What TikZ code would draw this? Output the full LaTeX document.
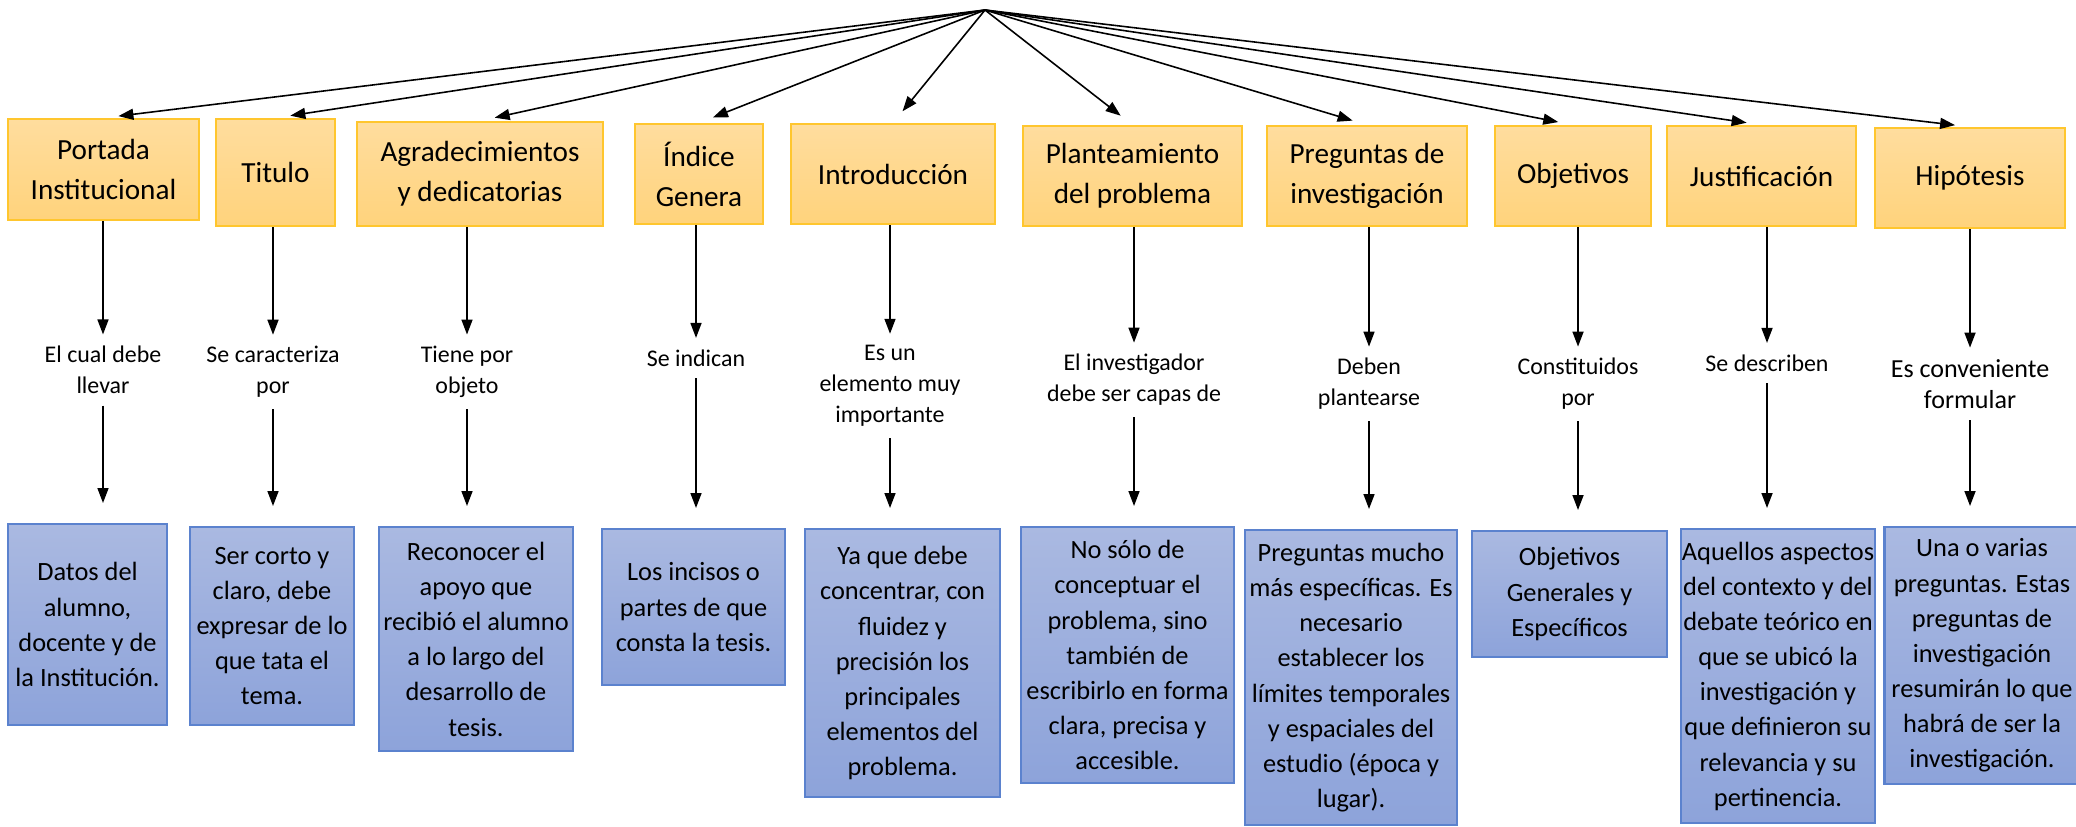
\documentclass[tikz,border=0pt]{standalone}
\usepackage{fontspec}
\setmainfont{Carlito}
\usetikzlibrary{arrows.meta}
\definecolor{goldedge}{HTML}{FFC62E}
\definecolor{goldtop}{HTML}{FFDD9E}
\definecolor{goldbot}{HTML}{FFD37C}
\definecolor{bluedge}{HTML}{5B82CE}
\definecolor{bluetop}{HTML}{AAB9E1}
\definecolor{bluebot}{HTML}{8DA3DA}

\begin{document}
\begin{tikzpicture}[x=0.01cm, y=-0.01cm,
    >={Triangle[length=0.15cm, width=0.11cm]},
    topbox/.style={draw=goldedge, line width=0.6pt, top color=goldtop, bottom color=goldbot,
                   align=center, inner xsep=0pt, font=\fontsize{8.3}{11.4}\selectfont},
    midtext/.style={align=center, inner sep=0.11cm, font=\fontsize{6.8}{8.8}\selectfont},
    botbox/.style={draw=bluedge, line width=0.6pt, top color=bluetop, bottom color=bluebot,
                   align=center, inner xsep=0pt, anchor=north, font=\fontsize{7.5}{10}\selectfont},
    flow/.style={->, line width=0.45pt}
    ]
    \useasboundingbox (0,0) rectangle (2076,826);
    \coordinate (tema) at (985,10);

    \node[topbox, minimum width=1.91cm, minimum height=1.01cm] (portada) at (103.5,169.5) {Portada\\Institucional};
    \node[topbox, minimum width=1.19cm, minimum height=1.07cm] (titulo) at (275.5,172.5) {Titulo};
    \node[topbox, minimum width=2.46cm, minimum height=1.04cm] (agrad) at (480,174) {Agradecimientos\\y dedicatorias};
    \node[topbox, minimum width=1.28cm, minimum height=1.00cm] (indice) at (699,174) {Índice\\Genera};
    \node[topbox, minimum width=2.04cm, minimum height=1.00cm] (intro) at (893,174) {Introducción};
    \node[topbox, minimum width=2.19cm, minimum height=1.00cm] (plant) at (1132.5,176) {Planteamiento\\del problema};
    \node[topbox, minimum width=2.00cm, minimum height=1.00cm] (pregun) at (1367,176) {Preguntas de\\investigación};
    \node[topbox, minimum width=1.56cm, minimum height=1.00cm] (objet) at (1573,176) {Objetivos};
    \node[topbox, minimum width=1.89cm, minimum height=1.00cm] (justif) at (1761.5,176) {Justificación};
    \node[topbox, minimum width=1.90cm, minimum height=1.00cm] (hipot) at (1970,178) {Hipótesis};

    \node[midtext] (portadal) at (103,370) {El cual debe\\llevar};
    \node[midtext] (titulol) at (273,372) {Se caracteriza\\por};
    \node[midtext] (agradl) at (467,372) {Tiene por\\objeto};
    \node[midtext] (indicel) at (696,358) {Se indican};
    \node[midtext] (introl) at (890,386) {Es un\\elemento muy\\importante};
    \node[midtext] (plantl) at (1134,380) {El investigador\\debe ser capas de};
    \node[midtext] (pregunl) at (1369,384) {Deben\\plantearse};
    \node[midtext] (objetl) at (1578,384) {Constituidos\\por};
    \node[midtext] (justifl) at (1767,363) {Se describen};
    \node[midtext, font=\fontsize{7.4}{8.9}\selectfont] (hipotl) at (1970,384) {Es conveniente\\formular};

    \node[botbox, minimum width=1.59cm, minimum height=2.01cm] (datos) at (87.5,523) {Datos del\\alumno,\\docente y de\\la Institución.};
    \node[botbox, minimum width=1.64cm, minimum height=1.98cm] (corto) at (272,526) {Ser corto y\\claro, debe\\expresar de lo\\que tata el\\tema.};
    \node[botbox, minimum width=1.94cm, minimum height=2.24cm] (apoyo) at (476,526) {Reconocer el\\apoyo que\\recibió el alumno\\a lo largo del\\desarrollo de\\tesis.};
    \node[botbox, minimum width=1.83cm, minimum height=1.56cm] (incisos) at (693.5,528) {Los incisos o\\partes de que\\consta la tesis.};
    \node[botbox, minimum width=1.95cm, minimum height=2.68cm] (concen) at (902.5,528) {Ya que debe\\concentrar, con\\fluidez y\\precisión los\\principales\\elementos del\\problema.};
    \node[botbox, minimum width=2.13cm, minimum height=2.56cm] (concep) at (1127.5,526) {No sólo de\\conceptuar el\\problema, sino\\también de\\escribirlo en forma\\clara, precisa y\\accesible.};
    \node[botbox, minimum width=2.12cm, minimum height=2.95cm] (limites) at (1351,529) {Preguntas mucho\\más específicas. Es\\necesario\\establecer los\\límites temporales\\y espaciales del\\estudio (época y\\lugar).};
    \node[botbox, minimum width=1.95cm, minimum height=1.26cm] (generales) at (1569.5,530) {Objetivos\\Generales y\\Específicos};
    \node[botbox, minimum width=1.94cm, minimum height=2.94cm] (aspectos) at (1778,528) {Aquellos aspectos\\del contexto y del\\debate teórico en\\que se ubicó la\\investigación y\\que definieron su\\relevancia y su\\pertinencia.};
    \node[botbox, minimum width=1.95cm, minimum height=2.56cm] (varias) at (1982,526) {Una o varias\\preguntas. Estas\\preguntas de\\investigación\\resumirán lo que\\habrá de ser la\\investigación.};

    \foreach \n in {portada,titulo,agrad,indice,intro,plant,pregun,objet,justif,hipot}
        \draw[flow, shorten >=0.15cm] (tema) -- (\n.north);

    \foreach \a/\b/\c in {portada/portadal/datos, titulo/titulol/corto, agrad/agradl/apoyo,
                          indice/indicel/incisos, intro/introl/concen, plant/plantl/concep,
                          pregun/pregunl/limites, objet/objetl/generales, justif/justifl/aspectos,
                          hipot/hipotl/varias}{
        \draw[flow] (\b.north |- \a.south) -- (\b.north);
        \draw[flow, shorten >=0.2cm] (\b.south) -- (\b.south |- \c.north);
    }
\end{tikzpicture}
\end{document}
